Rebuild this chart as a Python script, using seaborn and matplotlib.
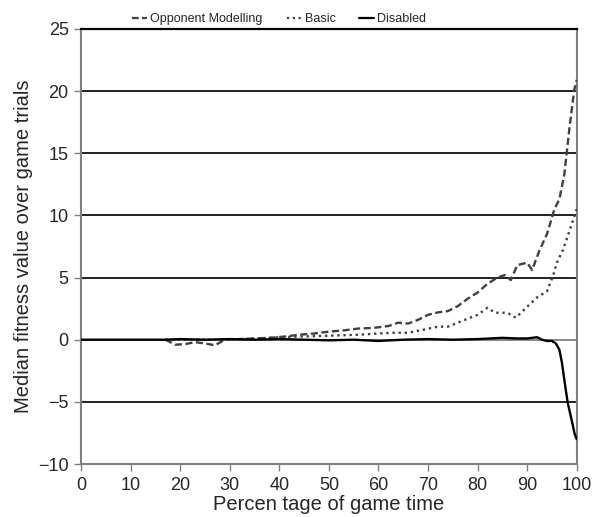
import pandas as pd
import matplotlib
matplotlib.use('Agg')
import matplotlib.pyplot as plt
import seaborn as sns

# valores (percentual do tempo de jogo x fitness mediano)
om_x = [17, 19, 21, 23, 25, 27, 29, 32, 35, 38, 41, 44, 47, 50, 53, 56, 59, 62, 64, 66, 68, 70,
        72, 74, 76, 78, 80, 82, 84, 85.5, 86.7, 88, 90, 91, 92.5, 94, 95.5, 96.5, 97.5, 98.5, 99.5, 100]
om_y = [0, -0.4, -0.35, -0.2, -0.3, -0.45, 0, 0.05, 0.1, 0.15, 0.25, 0.4, 0.5, 0.65, 0.75, 0.9, 0.95, 1.1, 1.37, 1.3, 1.6, 2.0,
        2.2, 2.3, 2.7, 3.3, 3.8, 4.5, 5.0, 5.2, 4.8, 6.0, 6.2, 5.6, 7.2, 8.5, 10.5, 11.3, 13.3, 16.9, 20.1, 20.9]

basic_x = [17, 28, 32, 36, 40, 44, 48, 52, 56, 60, 63, 66, 69, 72, 74, 76, 78.5, 80,
           82, 83.5, 86, 87.7, 90, 92, 94, 95.2, 96, 97.2, 98.5, 100]
basic_y = [0, 0, 0.05, 0.1, 0.2, 0.25, 0.3, 0.35, 0.4, 0.5, 0.56, 0.56, 0.8, 1.05, 1.05, 1.37, 1.77, 2.0,
           2.57, 2.17, 2.17, 1.77, 2.65, 3.4, 3.9, 5.1, 6.2, 7.2, 8.7, 10.5]

disabled_x = [0, 10, 17, 20, 25, 30, 35, 40, 45, 50, 55, 60, 65, 70, 75, 80, 85, 88, 90, 92,
              93, 94, 95, 95.8, 96.5, 97, 97.6, 98.2, 99, 99.6, 100]
disabled_y = [0, 0, 0, 0.05, 0, 0.05, 0, 0.05, 0, -0.05, 0, -0.1, 0, 0.05, 0, 0.05, 0.15, 0.1, 0.1, 0.2,
              0, -0.1, -0.1, -0.3, -0.8, -1.8, -3.5, -5.1, -6.5, -7.6, -8.0]

x_ticks = list(range(0, 101, 10))
y_ticks = list(range(-10, 26, 5))

sns.set_style('white')
plt.rcParams['font.family'] = ['Liberation Sans', 'DejaVu Sans']

fig = plt.figure(figsize=(5.97, 5.17), dpi=100)
ax = fig.add_axes([0.136, 0.1025, 0.830, 0.8415])

# linhas de grade horizontais (pretas), zero em cinza
for v in y_ticks:
    if v in (-10, 25):
        continue
    ax.axhline(v, color='#808080' if v == 0 else '#111111', lw=1.3, zorder=1)

series = [
    ('Opponent Modelling', om_x, om_y, (0, (3, 1.5)), '#404040'),
    ('Basic', basic_x, basic_y, (0, (1, 1.6)), '#404040'),
    ('Disabled', disabled_x, disabled_y, '-', '#000000'),
]
for nome, xs, ys, estilo, cor in series:
    df = pd.DataFrame({'x': xs, 'y': ys})
    sns.lineplot(data=df, x='x', y='y', ax=ax, color=cor, linestyle=estilo, lw=1.7,
                 label=nome, zorder=3)

ax.set_xlim(0, 100)
ax.set_ylim(-10, 25)
ax.set_xticks(x_ticks)
ax.set_yticks(y_ticks)
ax.set_yticklabels([str(v).replace('-', '\u2212') for v in y_ticks])
ax.tick_params(axis='both', labelsize=13, direction='out', length=5, width=1,
               color='#808080', left=True, bottom=True, pad=4)
ax.set_xlabel('Percen tage of game time', fontsize=14.5, labelpad=1)
ax.set_ylabel('Median fitness value over game trials', fontsize=14.5, labelpad=4)

for lado in ['left', 'bottom', 'right']:
    ax.spines[lado].set_color('#808080')
    ax.spines[lado].set_linewidth(1.5)
ax.spines['top'].set_color('#000000')
ax.spines['top'].set_linewidth(1.6)

leg = ax.legend(loc='lower center', bbox_to_anchor=(0.40, 0.995), ncol=3, frameon=False,
                fontsize=9, handlelength=1.2, handletextpad=0.25, columnspacing=1.9,
                borderaxespad=0.1)
for linha in leg.get_lines():
    linha.set_linewidth(1.6)

fig.savefig('out.png', dpi=100)
